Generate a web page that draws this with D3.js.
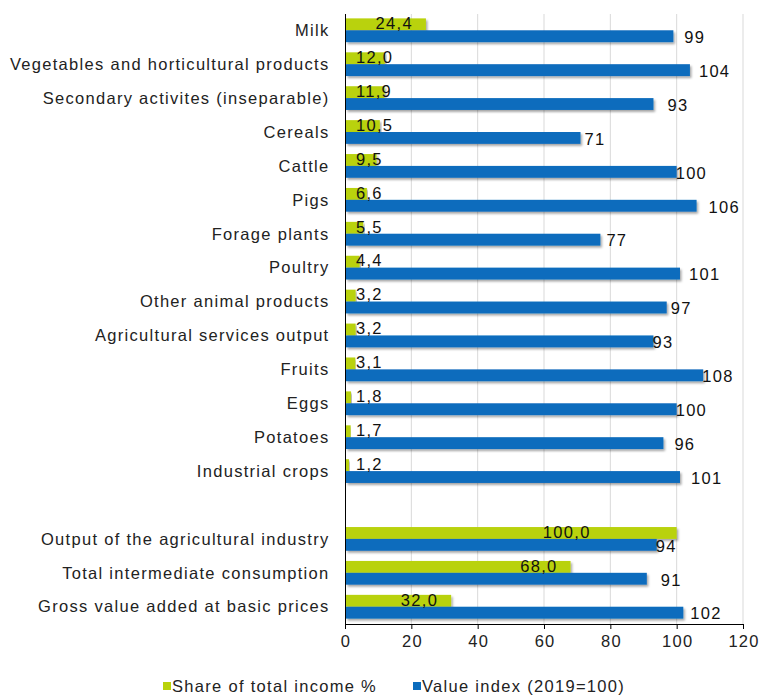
<!DOCTYPE html>
<html>
<head>
<meta charset="utf-8">
<script src="https://cdn.jsdelivr.net/npm/d3@7"></script>
<style>
  html, body { margin: 0; padding: 0; background: #ffffff; }
  svg { display: block; font-family: "Liberation Sans", Arial, sans-serif; }
  text { letter-spacing: 1.3px; }
</style>
</head>
<body>
<svg id="chart" width="763" height="695"></svg>
<script>
const categories = [
  "Milk",
  "Vegetables and horticultural products",
  "Secondary activites (inseparable)",
  "Cereals",
  "Cattle",
  "Pigs",
  "Forage plants",
  "Poultry",
  "Other animal products",
  "Agricultural services output",
  "Fruits",
  "Eggs",
  "Potatoes",
  "Industrial crops",
  "",
  "Output of the agricultural industry",
  "Total intermediate consumption",
  "Gross value added at basic prices"
];
const shareOfIncome = [24.4, 12.0, 11.9, 10.5, 9.5, 6.6, 5.5, 4.4, 3.2, 3.2, 3.1, 1.8, 1.7, 1.2, null, 100.0, 68.0, 32.0];
const valueIndex = [99, 104, 93, 71, 100, 106, 77, 101, 97, 93, 108, 100, 96, 101, null, 94, 91, 102];
const xTicks = [0, 20, 40, 60, 80, 100, 120];
const seriesNames = ["Share of total income %", "Value index (2019=100)"];

// label styling (pixel gaps between bar end and its value label, as in the original)
const indexLabelGap = [11, 9, 14, 4, -1, 12, 6, 9, 4, -1, -1, -1, 11, 11, 0, -1, 14, 7];

const colors = { share: "#b9d20b", index: "#0b6cbd" };
const fontSize = 16.5;

const svg = d3.select("#chart");
const mLeft = 345, mRight = 743, mTop = 14, mBottom = 624;

const x = d3.scaleLinear().domain([0, 120]).range([mLeft, mRight]);
const y0 = d3.scaleBand().domain(d3.range(categories.length)).range([mTop, mBottom - 1]).paddingInner(0.3).paddingOuter(0.13);
const y1 = d3.scaleBand().domain(["share", "index"]).range([0, y0.bandwidth()]);

const defs = svg.append("defs");
const f = defs.append("filter").attr("id", "shadow").attr("x", "-5%").attr("y", "-30%").attr("width", "110%").attr("height", "180%");
f.append("feDropShadow").attr("dx", 1.5).attr("dy", 2).attr("stdDeviation", 1.2).attr("flood-color", "#000").attr("flood-opacity", 0.35);

// gridlines
svg.append("g").selectAll("line").data(xTicks.filter(d => d > 0)).join("line")
  .attr("x1", d => x(d)).attr("x2", d => x(d))
  .attr("y1", mTop).attr("y2", mBottom)
  .attr("stroke", "#d9d9d9").attr("stroke-width", 1);

const rows = categories.map((c, i) => ({ c, i, share: shareOfIncome[i], index: valueIndex[i] })).filter(d => d.c !== "");

// bars
const g = svg.append("g");
g.selectAll("rect.share").data(rows).join("rect").attr("class", "share")
  .attr("x", x(0) + 1).attr("y", d => y0(d.i) + y1("share"))
  .attr("width", d => x(d.share) - x(0) - 1).attr("height", y1.bandwidth())
  .attr("fill", colors.share).attr("filter", "url(#shadow)");
g.selectAll("rect.index").data(rows).join("rect").attr("class", "index")
  .attr("x", x(0) + 1).attr("y", d => y0(d.i) + y1("index"))
  .attr("width", d => x(d.index) - x(0) - 1).attr("height", y1.bandwidth())
  .attr("fill", colors.index).attr("filter", "url(#shadow)");

// axes
const xAxis = d3.axisBottom(x).tickValues(xTicks).tickSize(5).tickPadding(6).tickFormat(d3.format("d"));
const ax = svg.append("g").attr("transform", `translate(0,${mBottom})`).call(xAxis);
ax.select(".domain").attr("stroke", "#000").attr("d", `M${mLeft},0.5H${mRight}`);
ax.selectAll(".tick line").attr("stroke", "#000");
ax.selectAll(".tick text").attr("font-size", fontSize).attr("fill", "#222")
  .attr("font-family", "Liberation Sans, Arial, sans-serif").attr("dx", "0.6px");

svg.append("line").attr("x1", mLeft + 0.5).attr("x2", mLeft + 0.5).attr("y1", mTop).attr("y2", mBottom + 5).attr("stroke", "#000");

// category labels
svg.append("g").selectAll("text").data(rows).join("text")
  .attr("x", 329.5).attr("y", d => y0(d.i) + y0.bandwidth() / 2)
  .attr("dy", "0.35em").attr("text-anchor", "end")
  .attr("font-size", fontSize).attr("fill", "#222")
  .text(d => d.c);

// value labels: share (inside end, clamped near the axis for short bars)
const fmtComma = v => d3.format(".1f")(v).replace(".", ",");
const shareLabels = svg.append("g").selectAll("text").data(rows).join("text")
  .attr("y", d => y0(d.i) + y1("share") + y1.bandwidth() / 2 - 1)
  .attr("dy", "0.35em").attr("text-anchor", "start")
  .attr("font-size", fontSize).attr("fill", "#111")
  .text(d => fmtComma(d.share));
shareLabels.each(function(d) {
  const w = this.getComputedTextLength();
  let rightEdge = d.share >= 90 ? x(d.share) - 86 : x(d.share) - 13;
  let lx = Math.max(rightEdge - w, x(0) + 11);
  d3.select(this).attr("x", lx);
});

// value labels: index (outside end)
svg.append("g").selectAll("text").data(rows).join("text")
  .attr("x", d => x(d.index) + indexLabelGap[d.i])
  .attr("y", d => y0(d.i) + y1("index") + y1.bandwidth() / 2 + 1)
  .attr("dy", "0.35em").attr("text-anchor", "start")
  .attr("font-size", fontSize).attr("fill", "#111")
  .text(d => d.index);

// legend
const legend = svg.append("g");
const legendItems = [
  { name: seriesNames[0], color: colors.share, x: 163 },
  { name: seriesNames[1], color: colors.index, x: 413 }
];
legend.selectAll("rect").data(legendItems).join("rect")
  .attr("x", d => d.x).attr("y", 682).attr("width", 8).attr("height", 8).attr("fill", d => d.color);
legend.selectAll("text").data(legendItems).join("text")
  .attr("x", d => d.x + 9).attr("y", 686).attr("dy", "0.35em")
  .attr("font-size", fontSize).attr("fill", "#222").text(d => d.name);
</script>
</body>
</html>
